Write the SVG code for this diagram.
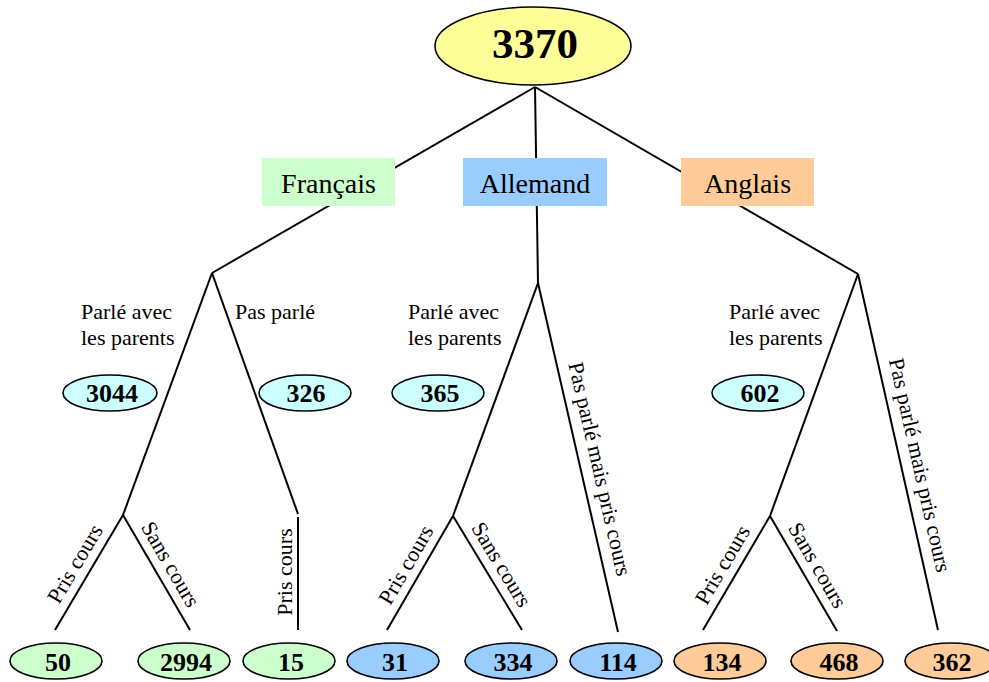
<svg xmlns="http://www.w3.org/2000/svg" width="989" height="682" viewBox="0 0 989 682">
<style>
.ln{stroke:#000;stroke-width:2;fill:none}
.el{stroke:#000;stroke-width:1.6}
.num{font-family:"Liberation Serif","Times New Roman",serif;font-weight:bold;font-size:26px;text-anchor:middle;fill:#000}
.lab{font-family:"Liberation Serif","Times New Roman",serif;font-size:22px;fill:#000}
.mid{text-anchor:middle}
.lang{font-family:"Liberation Serif","Times New Roman",serif;font-size:28px;text-anchor:middle;fill:#000}
.g{fill:#CCFFCC}.b{fill:#99CCFF}.o{fill:#FFCC99}.c{fill:#CCFFFF}
</style>
<rect width="989" height="682" fill="#fff"/>
<g id="connectors">
<line class="ln" x1="535" y1="87" x2="212" y2="273"/>
<line class="ln" x1="535" y1="87" x2="538" y2="283"/>
<line class="ln" x1="535" y1="87" x2="858" y2="274"/>
<line class="ln" x1="212" y1="273" x2="123" y2="515"/>
<line class="ln" x1="212" y1="273" x2="298" y2="514"/>
<line class="ln" x1="123" y1="515" x2="55" y2="630"/>
<line class="ln" x1="123" y1="515" x2="190" y2="630"/>
<line class="ln" x1="298" y1="517" x2="298" y2="630"/>
<line class="ln" x1="538" y1="283" x2="453" y2="516"/>
<line class="ln" x1="538" y1="283" x2="618" y2="632"/>
<line class="ln" x1="453" y1="516" x2="387" y2="630"/>
<line class="ln" x1="453" y1="516" x2="522" y2="630"/>
<line class="ln" x1="858" y1="274" x2="770" y2="516"/>
<line class="ln" x1="858" y1="274" x2="938" y2="630"/>
<line class="ln" x1="770" y1="516" x2="703" y2="630"/>
<line class="ln" x1="770" y1="516" x2="837" y2="631"/>
</g>
<g id="labels">
<text class="lab" x="81" y="319">Parlé avec</text>
<text class="lab" x="81" y="345">les parents</text>
<text class="lab" x="235" y="319">Pas parlé</text>
<text class="lab" x="408" y="319">Parlé avec</text>
<text class="lab" x="408" y="345">les parents</text>
<text class="lab" x="729" y="319">Parlé avec</text>
<text class="lab" x="729" y="345">les parents</text>
<text class="lab mid" transform="translate(89,572) rotate(-59.4)" y="-9">Pris cours</text>
<text class="lab mid" transform="translate(156.5,572.5) rotate(59.8)" y="-9">Sans cours</text>
<text class="lab mid" transform="translate(298,572) rotate(-90)" y="-6">Pris cours</text>
<text class="lab mid" transform="translate(420,573) rotate(-59.9)" y="-9">Pris cours</text>
<text class="lab mid" transform="translate(487.5,573) rotate(58.8)" y="-9">Sans cours</text>
<text class="lab mid" transform="translate(736.5,573) rotate(-59.6)" y="-9">Pris cours</text>
<text class="lab mid" transform="translate(803.5,573.5) rotate(59.8)" y="-9">Sans cours</text>
<text class="lab mid" transform="translate(582,473) rotate(77.1)" y="-11">Pas parlé mais pris cours</text>
<text class="lab mid" transform="translate(902,469) rotate(77.3)" y="-11">Pas parlé mais pris cours</text>
</g>
<g id="root">
<ellipse class="el" cx="533" cy="46" rx="98" ry="39" fill="#FFFF99"/>
<text x="535" y="58" font-family="Liberation Serif,Times New Roman,serif" font-weight="bold" font-size="43" text-anchor="middle">3370</text>
</g>
<g id="francais">
<rect x="262" y="158" width="133" height="48" class="g"/>
<text class="lang" x="328.5" y="193">Français</text>
</g>
<g id="allemand">
<rect x="463" y="158" width="144" height="48" class="b"/>
<text class="lang" x="535" y="193">Allemand</text>
</g>
<g id="anglais">
<rect x="681" y="158" width="133" height="48" class="o"/>
<text class="lang" x="747.5" y="193">Anglais</text>
</g>
<g id="n3044"><ellipse class="el c" cx="110" cy="393" rx="47" ry="18"/><text class="num" x="112" y="402">3044</text></g>
<g id="n326"><ellipse class="el c" cx="305" cy="393" rx="46" ry="18"/><text class="num" x="306" y="402">326</text></g>
<g id="n365"><ellipse class="el c" cx="438" cy="393" rx="46" ry="18"/><text class="num" x="440" y="402">365</text></g>
<g id="n602"><ellipse class="el c" cx="758" cy="393" rx="46" ry="18"/><text class="num" x="760" y="402">602</text></g>
<g id="n50"><ellipse class="el g" cx="56" cy="661" rx="46" ry="18"/><text class="num" x="58" y="671">50</text></g>
<g id="n2994"><ellipse class="el g" cx="184" cy="661" rx="46" ry="18"/><text class="num" x="186" y="671">2994</text></g>
<g id="n15"><ellipse class="el g" cx="289" cy="661" rx="46" ry="18"/><text class="num" x="291" y="671">15</text></g>
<g id="n31"><ellipse class="el b" cx="393" cy="661" rx="46" ry="18"/><text class="num" x="395" y="671">31</text></g>
<g id="n334"><ellipse class="el b" cx="511" cy="661" rx="46" ry="18"/><text class="num" x="513" y="671">334</text></g>
<g id="n114"><ellipse class="el b" cx="616" cy="661" rx="46" ry="18"/><text class="num" x="618" y="671">114</text></g>
<g id="n134"><ellipse class="el o" cx="720" cy="661" rx="46" ry="18"/><text class="num" x="722" y="671">134</text></g>
<g id="n468"><ellipse class="el o" cx="837" cy="661" rx="46" ry="18"/><text class="num" x="839" y="671">468</text></g>
<g id="n362"><ellipse class="el o" cx="951" cy="661" rx="46" ry="18"/><text class="num" x="952" y="671">362</text></g>
</svg>
